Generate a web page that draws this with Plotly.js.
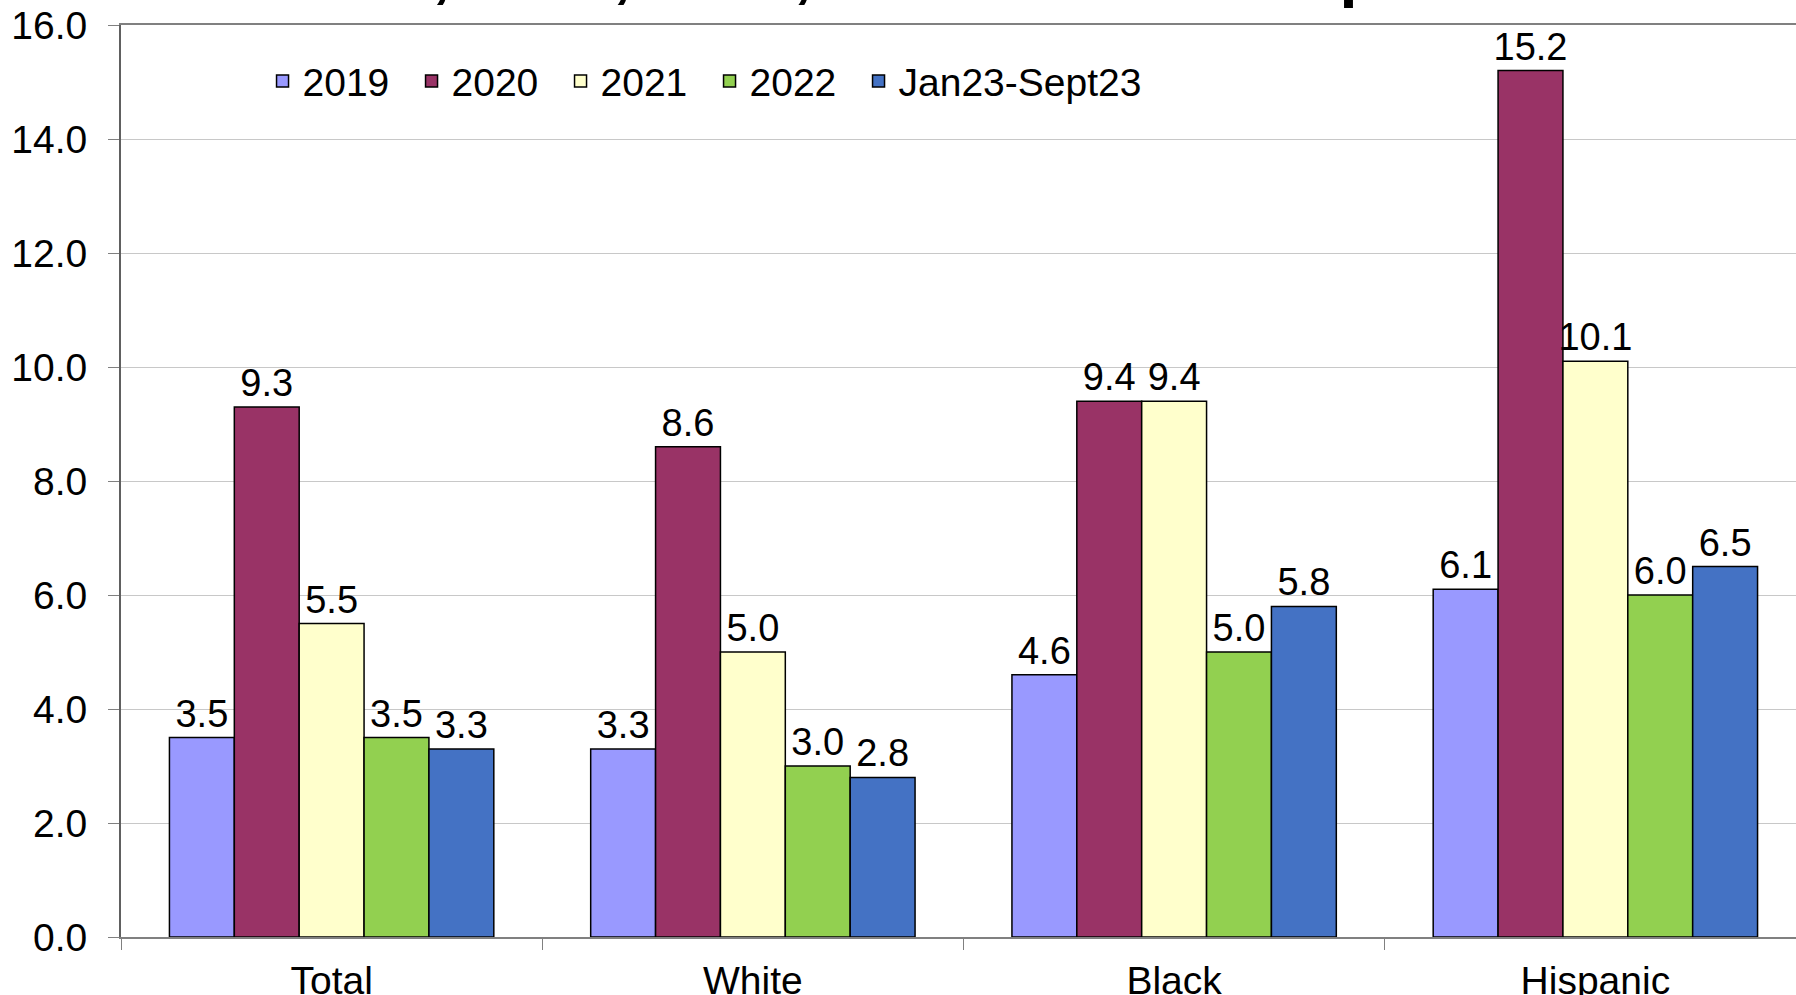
<!DOCTYPE html>
<html>
<head>
<meta charset="utf-8">
<script src="https://cdn.plot.ly/plotly-3.0.1.min.js"></script>
<style>
html, body { margin: 0; padding: 0; overflow: hidden; background: #fff; }
#chart { width: 1806px; height: 995px; }
</style>
</head>
<body>
<div id="chart"></div>
<script>
const categories = ["Total", "White", "Black", "Hispanic"];
const seriesNames = ["2019", "2020", "2021", "2022", "Jan23-Sept23"];
const v2019 = [3.5, 3.3, 4.6, 6.1];
const v2020 = [9.3, 8.6, 9.4, 15.2];
const v2021 = [5.5, 5.0, 9.4, 10.1];
const v2022 = [3.5, 3.0, 5.0, 6.0];
const v2023 = [3.3, 2.8, 5.8, 6.5];
const colors = ["#9999FF", "#993366", "#FFFFCC", "#92D050", "#4472C4"];
const titleText = "2019, 2020, 2021, 2022 and Jan-Sept 2023";

const allValues = [v2019, v2020, v2021, v2022, v2023];
const FONT = "Liberation Sans, Arial, sans-serif";

const traces = allValues.map((vals, i) => ({
  type: "bar",
  name: seriesNames[i],
  x: categories,
  y: vals,
  text: vals.map(v => v.toFixed(1)),
  textposition: "outside",
  constraintext: "none",
  cliponaxis: false,
  textfont: { family: FONT, size: 38, color: "#000" },
  marker: { color: colors[i], line: { color: "#000", width: 1.5 } },
  hoverinfo: "x+y+name"
}));

// invisible spacer so the last legend entry is not clipped
traces.push({
  type: "scatter", mode: "markers", name: " ",
  x: [null], y: [null],
  marker: { opacity: 0 },
  hoverinfo: "skip"
});

const layout = {
  width: 1806,
  height: 995,
  margin: { l: 121, r: 0, t: 25, b: 58 },
  paper_bgcolor: "#fff",
  plot_bgcolor: "#fff",
  barmode: "group",
  bargap: 0.23,
  bargroupgap: 0,
  font: { family: FONT, size: 39, color: "#000" },
  showlegend: true,
  legend: {
    orientation: "h",
    x: 0.084, xanchor: "left",
    y: 0.9385, yanchor: "middle",
    bgcolor: "rgba(0,0,0,0)",
    font: { family: FONT, size: 39, color: "#000" },
    entrywidth: 104,
    entrywidthmode: "pixels",
    traceorder: "normal",
    itemclick: false, itemdoubleclick: false
  },
  xaxis: {
    type: "category",
    showline: true, linecolor: "#808080", linewidth: 2, mirror: true,
    ticks: "outside", tickson: "boundaries", ticklen: 11, tickcolor: "#808080", tickwidth: 1,
    showgrid: false,
    tickfont: { family: FONT, size: 39, color: "#000" },
    ticklabelstandoff: 8
  },
  yaxis: {
    range: [0, 16], dtick: 2, tickformat: ".1f",
    showline: true, linecolor: "#606060", linewidth: 2,
    ticks: "outside", ticklen: 11, tickcolor: "#808080", tickwidth: 1,
    showgrid: true, gridcolor: "#c8c8c8", gridwidth: 1,
    zeroline: false,
    tickfont: { family: FONT, size: 39, color: "#000" },
    ticklabelstandoff: 13
  },
  annotations: [{
    text: "<b>" + titleText + "</b>",
    xref: "paper", yref: "paper",
    x: 0.478, y: 1, xanchor: "center", yanchor: "bottom",
    yshift: 14,
    showarrow: false,
    font: { family: FONT, size: 65, color: "#000" }
  }]
};

Plotly.newPlot("chart", traces, layout, { displayModeBar: false });
</script>
</body>
</html>
